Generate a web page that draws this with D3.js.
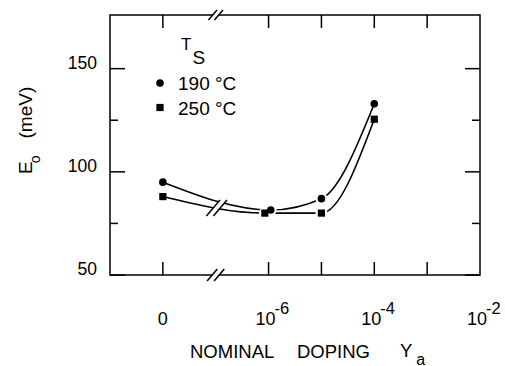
<!DOCTYPE html>
<html>
<head>
<meta charset="utf-8">
<script src="https://cdn.jsdelivr.net/npm/d3@7"></script>
<style>
  html, body { margin: 0; padding: 0; background: #fff; }
  svg { display: block; }
  text { font-family: "Liberation Sans", Arial, sans-serif; fill: #000; }
</style>
</head>
<body>
<svg id="chart" width="505" height="366"></svg>
<script>
// Activation energy E0 versus nominal doping, two deposition temperatures
const dopingTicks = [0, 1e-6, 1e-5, 1e-4, 1e-3];
const dopingLabels = [
  { v: 0, base: "0", exp: "" },
  { v: 1e-6, base: "10", exp: "-6" },
  { v: 1e-4, base: "10", exp: "-4" },
  { v: 1e-2, base: "10", exp: "-2" }
];
const energyMajor = [50, 100, 150];
const energyMinor = [75, 125];

const seriesNames = ["190 \u00B0C", "250 \u00B0C"];
const doping190 = [0, 1.1e-6, 1e-5, 1e-4];
const energy190 = [95, 81.5, 87, 133];
const doping250 = [0, 0.85e-6, 1e-5, 1e-4];
const energy250 = [88, 80, 80, 125.5];

const svg = d3.select("#chart");
const L = 110, R = 480, T = 15, B = 275;

// log axis; the undoped sample sits one decade right of the left edge (axis is broken)
const x = d3.scaleLog().domain([1e-9, 1e-2]).range([L, R]);
const zeroAt = 1e-8;
const breakAt = 1e-7;
const xp = v => (v === 0 ? x(zeroAt) : x(v));
const y = d3.scaleLinear().domain([50, 176]).range([B, T]);

const ink = "#000";
const sw = 1.5;

// frame
const frame = svg.append("g").attr("stroke", ink).attr("stroke-width", sw).attr("fill", "none");
frame.append("rect").attr("x", L).attr("y", T).attr("width", R - L).attr("height", B - T);

// x ticks (top and bottom, pointing inward)
const xTickLen = 13;
dopingTicks.forEach(v => {
  const px = xp(v);
  frame.append("line").attr("x1", px).attr("x2", px).attr("y1", B).attr("y2", B - xTickLen);
  frame.append("line").attr("x1", px).attr("x2", px).attr("y1", T).attr("y2", T + xTickLen);
});

// y ticks on both sides
energyMajor.concat(energyMinor).forEach(v => {
  const len = energyMajor.includes(v) ? 15 : 8;
  const py = y(v);
  frame.append("line").attr("x1", L).attr("x2", L + len).attr("y1", py).attr("y2", py);
  frame.append("line").attr("x1", R).attr("x2", R - len).attr("y1", py).attr("y2", py);
});

// y tick labels
svg.append("g").selectAll("text").data(energyMajor).join("text")
  .attr("x", 97).attr("y", d => y(d))
  .attr("text-anchor", "end")
  .style("font-size", "17.5px")
  .text(d => d);

// x tick labels
const xl = svg.append("g");
dopingLabels.forEach(d => {
  const px = xp(d.v);
  if (!d.exp) {
    xl.append("text").attr("x", px).attr("y", 325).attr("text-anchor", "middle")
      .style("font-size", "18px").text(d.base);
  } else {
    const t = xl.append("text").attr("x", px - 13).attr("y", 325).style("font-size", "18px");
    t.append("tspan").text(d.base);
    t.append("tspan").attr("dy", -11).attr("dx", -1).style("font-size", "16.5px").text(d.exp);
  }
});

// axis titles
svg.append("text").attr("x", 190).attr("y", 358).style("font-size", "18.5px").text("NOMINAL");
svg.append("text").attr("x", 297).attr("y", 358).style("font-size", "18.5px").text("DOPING");
const ya = svg.append("text").attr("x", 400).attr("y", 357).style("font-size", "18.5px");
ya.append("tspan").text("Y");
ya.append("tspan").attr("dx", 4).attr("dy", 7.5).style("font-size", "16px").text("a");

const yt = svg.append("text")
  .attr("transform", "translate(32,174) rotate(-90)")
  .style("font-size", "19px");
yt.append("tspan").text("E");
yt.append("tspan").attr("dx", -2).attr("dy", 8).style("font-size", "14px").text("o");
yt.append("tspan").attr("dx", 17).attr("dy", -8).text("(meV)");

// curves
const series = [
  { name: seriesNames[0], xs: doping190, ys: energy190, shape: "circle" },
  { name: seriesNames[1], xs: doping250, ys: energy250, shape: "square" }
];
const line = d3.line().x(d => xp(d[0])).y(d => y(d[1])).curve(d3.curveMonotoneX);

series.forEach(s => {
  const pts = s.xs.map((v, i) => [v, s.ys[i]]);
  svg.append("path").attr("d", line(pts))
    .attr("fill", "none").attr("stroke", ink).attr("stroke-width", 1.6);
});

// small gaps where the curves meet interior markers
series.forEach(s => {
  s.xs.forEach((v, i) => {
    if (i === 0 || i === s.xs.length - 1) return;
    svg.append("circle").attr("cx", xp(v)).attr("cy", y(s.ys[i])).attr("r", 6)
      .attr("fill", "#fff");
  });
});

// break marks: white gap between two slashes
function breakMark(cx, cy, halfH, gap) {
  const dx = halfH * 0.85;
  const a = cx - gap / 2, b = cx + gap / 2;
  svg.append("polygon")
    .attr("points", [[a - dx, cy + halfH], [a + dx, cy - halfH], [b + dx, cy - halfH], [b - dx, cy + halfH]].join(" "))
    .attr("fill", "#fff");
  [a, b].forEach(c => {
    svg.append("line").attr("x1", c - dx).attr("y1", cy + halfH).attr("x2", c + dx).attr("y2", cy - halfH)
      .attr("stroke", ink).attr("stroke-width", 1.5);
  });
}
breakMark(x(breakAt), T, 5, 6);
breakMark(x(breakAt), B, 6, 7);
breakMark(x(breakAt) + 1, y(82.5), 8, 7);

// markers
function marker(g, shape, cx, cy) {
  if (shape === "circle") {
    g.append("circle").attr("cx", cx).attr("cy", cy).attr("r", 3.8).attr("fill", ink);
  } else {
    g.append("rect").attr("x", cx - 3.6).attr("y", cy - 3.6).attr("width", 7.2).attr("height", 7.2).attr("fill", ink);
  }
}
const mk = svg.append("g");
series.forEach(s => {
  s.xs.forEach((v, i) => marker(mk, s.shape, xp(v), y(s.ys[i])));
});

// legend
const lg = svg.append("g");
const ts = lg.append("text").attr("x", 181).attr("y", 50).style("font-size", "17px");
ts.append("tspan").text("T");
ts.append("tspan").attr("dx", 1).attr("dy", 14).style("font-size", "19px").text("S");
series.forEach((s, i) => {
  const cy = 83 + i * 24.5;
  marker(lg, s.shape, 160, cy);
  lg.append("text").attr("x", 178).attr("y", cy + 7).style("font-size", "19px").text(s.name);
});
</script>
</body>
</html>
